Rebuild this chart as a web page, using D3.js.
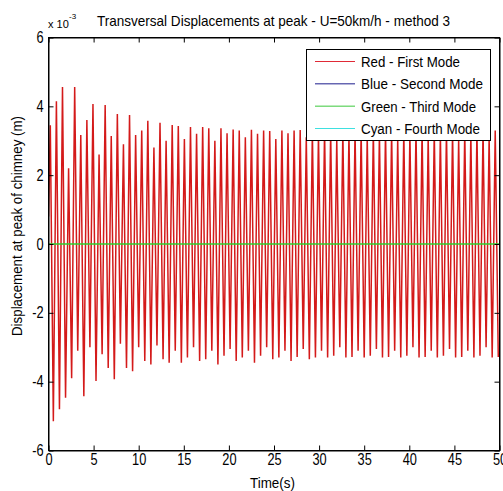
<!DOCTYPE html>
<html><head><meta charset="utf-8">
<script src="https://cdn.jsdelivr.net/npm/d3@7"></script>
<style>
html,body{margin:0;padding:0;background:#fff;}
svg text{font-family:"Liberation Sans",Arial,sans-serif;fill:#000;}
</style></head>
<body><svg id="c" width="503" height="491"></svg>
<script>
// ---- data (values in units of 1e-3 m) ----
const xTicks = [0,5,10,15,20,25,30,35,40,45,50];
const yTicks = [-6,-4,-2,0,2,4,6];
const startValue = 0.8;
const firstPeakTime = 0.2;
const period = 0.6757;
const upperPeaks = [3.45,4.15,4.56,2.2,4.56,3.17,3.6,4.07,2.6,4.04,
 3.14,3.78,2.9,3.75,3.17,3.3,3.58,2.8,3.52,3.0,
 3.46,3.43,3.05,3.4,3.2,3.4,3.36,3.0,3.36,3.22,
 3.33,3.3,3.1,3.32,3.2,3.3,3.28,3.05,3.3,3.22,
 3.3,3.31,3.1,3.29,3.2,3.32,3.28,3.04,3.3,3.2,
 3.3,3.3,3.12,3.3,3.22,3.31,3.27,3.05,3.3,3.2,
 3.32,3.3,3.1,3.3,3.22,3.3,3.28,3.06,3.3,3.21,
 3.3,3.31,3.1,3.3];
const lowerPeaks = [-5.15,-4.8,-4.47,-3.9,-3.1,-4.42,-3.0,-3.98,-3.2,-3.6,
 -3.93,-2.9,-3.6,-3.7,-3.0,-3.4,-3.5,-2.95,-3.35,-3.45,
 -3.1,-3.45,-3.3,-3.0,-3.4,-3.35,-3.1,-3.5,-3.25,-3.05,
 -3.4,-3.3,-3.1,-3.45,-3.25,-3.0,-3.35,-3.3,-3.1,-3.4,
 -3.28,-3.05,-3.35,-3.3,-3.1,-3.3,-3.25,-3.0,-3.3,-3.28,
 -3.1,-3.3,-3.25,-3.05,-3.3,-3.28,-3.1,-3.3,-3.25,-3.0,
 -3.3,-3.28,-3.1,-3.3,-3.25,-3.05,-3.3,-3.28,-3.1,-3.3,
 -3.25,-3.0,-3.3,-3.28];
const zeroModes = [0,0]; // second, third, fourth modes stay at zero
const legendLabels = ["Red - First Mode","Blue - Second Mode","Green - Third Mode","Cyan - Fourth Mode"];
const legendColors = ["#e02a36","#1c1c8c","#3cc83c","#3ee0e0"];
const titleText = "Transversal Displacements at peak - U=50km/h - method 3";
const xLabel = "Time(s)";
const yLabel = "Displacement at peak of chimney (m)";

// ---- build series ----
const series = [{t:0, v:startValue}];
const n = Math.max(upperPeaks.length, lowerPeaks.length);
for (let k=0;k<n;k++){
  const tp = firstPeakTime + k*period;
  if (k<upperPeaks.length) series.push({t:tp, v:upperPeaks[k]});
  if (k<lowerPeaks.length) series.push({t:tp+period/2, v:lowerPeaks[k]});
}

const svg = d3.select("#c");
const L=48.5, R=499.5, T=37.5, B=450.5;
const x = d3.scaleLinear().domain([0,50]).range([L,R]);
const y = d3.scaleLinear().domain([-6,6]).range([B,T]);
const SX = 0.8;

svg.append("defs").append("clipPath").attr("id","clip")
  .append("rect").attr("x",L).attr("y",T).attr("width",R-L).attr("height",B-T);

const plot = svg.append("g").attr("clip-path","url(#clip)");
plot.append("path").datum(series)
  .attr("fill","none").attr("stroke","#d41a1a").attr("stroke-width",1.5)
  .attr("d", d3.line().x(d=>x(d.t)).y(d=>y(d.v)));
// zero-valued modes
plot.append("path").datum(zeroModes)
  .attr("fill","none").attr("stroke","#2ccf2c").attr("stroke-width",1.3)
  .attr("d", d3.line().x((d,i)=>x(i*50)).y(d=>y(d)));

// axes
const gB = svg.append("g").attr("transform",`translate(0,${B})`)
  .call(d3.axisBottom(x).tickValues(xTicks).tickSizeInner(-5).tickSizeOuter(0).tickPadding(3).tickFormat(d3.format("d")));
const gT = svg.append("g").attr("transform",`translate(0,${T})`)
  .call(d3.axisTop(x).tickValues(xTicks).tickSizeInner(-5).tickSizeOuter(0).tickFormat(""));
const gL = svg.append("g").attr("transform",`translate(${L},0)`)
  .call(d3.axisLeft(y).tickValues(yTicks).tickSizeInner(-5).tickSizeOuter(0).tickPadding(5).tickFormat(d3.format("d")));
const gR = svg.append("g").attr("transform",`translate(${R},0)`)
  .call(d3.axisRight(y).tickValues(yTicks).tickSizeInner(-5).tickSizeOuter(0).tickFormat(""));
[gB,gT,gL,gR].forEach(g=>{
  g.select(".domain").attr("stroke","#000");
  g.selectAll(".tick line").attr("stroke","#000");
  g.selectAll("text").attr("font-family","Liberation Sans, Arial, sans-serif").attr("font-size",16).attr("fill","#000");
});
gB.selectAll(".tick text").attr("transform",`scale(${SX},1)`);
gL.selectAll(".tick text").attr("x",-5/SX).attr("transform",`scale(${SX},1)`)
  .text(d=> d<0 ? "-"+Math.abs(d) : d);

// box
svg.append("rect").attr("x",L).attr("y",T).attr("width",R-L).attr("height",B-T)
  .attr("fill","none").attr("stroke","#000").attr("stroke-width",1);

// exponent
const ex = svg.append("text").attr("x",48).attr("y",28).attr("font-size",11);
ex.append("tspan").text("x 10");
svg.append("text").attr("x",69).attr("y",18.5).attr("font-size",8).text("-3");

// title
svg.append("text").attr("x",97).attr("y",26).attr("font-size",15)
  .attr("textLength",353).attr("lengthAdjust","spacingAndGlyphs").text(titleText);
// x label
svg.append("text").attr("x",250).attr("y",488).attr("font-size",15)
  .attr("textLength",45).attr("lengthAdjust","spacingAndGlyphs").text(xLabel);
// y label
svg.append("text").attr("transform","translate(22,226) rotate(-90)")
  .attr("text-anchor","middle").attr("font-size",15)
  .attr("textLength",220).attr("lengthAdjust","spacingAndGlyphs").text(yLabel);

// legend
const lg = svg.append("g");
lg.append("rect").attr("x",306.5).attr("y",49.5).attr("width",184).attr("height",91)
  .attr("fill","#fff").attr("stroke","#000").attr("stroke-width",1);
const rowY = d3.scalePoint().domain(d3.range(legendLabels.length)).range([61.5,128.5]);
const textW = [99,122,115,119];
legendLabels.forEach((lab,i)=>{
  const yy = rowY(i);
  lg.append("line").attr("x1",315).attr("x2",355).attr("y1",yy).attr("y2",yy)
    .attr("stroke",legendColors[i]).attr("stroke-width",1);
  lg.append("text").attr("x",361).attr("y",yy+5.5).attr("font-size",15.5)
    .attr("textLength",textW[i]).attr("lengthAdjust","spacingAndGlyphs").text(lab);
});
</script></body></html>
